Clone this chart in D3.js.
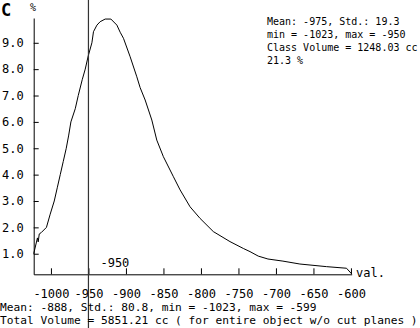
<!DOCTYPE html>
<html>
<head>
<meta charset="utf-8">
<script src="https://cdn.jsdelivr.net/npm/d3@7"></script>
<style>
  body { margin: 0; background: #fff; }
  svg { display: block; }
  text { font-family: 'DejaVu Sans Mono', monospace; fill: #000; }
</style>
</head>
<body>
<div id="chart"></div>
<script>
const width = 420;
const height = 328;

// histogram curve
const values = [-1023, -1018, -1017, -1015.6, -1013, -1006, -1001, -995.6, -991.6, -987.6,
  -983.6, -979.6, -976.3, -973.4, -967.6, -963.6, -958.3, -954.3, -950.3, -945.4,
  -943.3, -938.7, -934.4, -927.7, -920.1, -912.1, -907.7, -903.3, -894.4, -885.5,
  -881.1, -874.4, -865.5, -858.9, -850.1, -836.7, -827.8, -814.5, -801.2, -783.5,
  -761.3, -743.5, -734.6, -723.6, -710.7, -690.7, -668.1, -632.5, -605.9, -599.2];
const percents = [1.0, 1.6, 1.45, 1.75, 1.8, 2.0, 2.5, 3.0, 3.5, 4.0,
  4.5, 5.0, 5.5, 6.0, 6.5, 7.0, 7.6, 8.0, 8.5, 9.0,
  9.42, 9.67, 9.8, 9.9, 9.9, 9.67, 9.4, 9.17, 8.47, 7.71,
  7.3, 6.83, 6.07, 5.31, 4.68, 3.92, 3.42, 2.78, 2.34, 1.84,
  1.46, 1.2, 1.08, 0.91, 0.8, 0.72, 0.61, 0.51, 0.45, 0.24];

const xTicks = [-1000, -950, -900, -850, -800, -750, -700, -650, -600];
const yTicks = [1, 2, 3, 4, 5, 6, 7, 8, 9];
const cutValue = -950;

const infoLines = ['Mean: -975, Std.: 19.3', 'min = -1023, max = -950', 'Class Volume = 1248.03 cc', '21.3 %'];
const footLines = ['Mean: -888, Std.: 80.8, min = -1023, max = -599',
  'Total Volume = 5851.21 cc ( for entire object w/o cut planes )'];

const svg = d3.select('#chart')
  .append('svg')
  .attr('width', width)
  .attr('height', height);

const x = d3.scaleLinear()
  .domain([-1023, -599])
  .range([33.7, 351.7]);

const y = d3.scaleLinear()
  .domain([0.22, 9.94])
  .range([274.3, 18]);

// axes
const xAxis = svg.append('g')
  .attr('transform', `translate(0, ${y(0.22)})`)
  .call(d3.axisBottom(x)
    .tickValues(xTicks)
    .tickFormat(d3.format('d'))
    .tickSizeInner(-6)
    .tickSizeOuter(0)
    .tickPadding(15));

const yAxis = svg.append('g')
  .attr('transform', `translate(${x(-1023)}, 0)`)
  .call(d3.axisLeft(y)
    .tickValues(yTicks)
    .tickFormat(d3.format('.1f'))
    .tickSizeInner(-5)
    .tickSizeOuter(0)
    .tickPadding(10));

svg.selectAll('.domain, .tick line').attr('stroke', '#000');
xAxis.selectAll('text').attr('font-size', 12).attr('font-family', "'DejaVu Sans Mono', monospace");
yAxis.selectAll('text').attr('font-size', 12).attr('font-family', "'DejaVu Sans Mono', monospace");
xAxis.selectAll('.tick text').text(d => d3.format('d')(d).replace('−', '-'));

// curve
const points = values.map((v, i) => [v, percents[i]]);
const line = d3.line()
  .x(d => x(d[0]))
  .y(d => y(d[1]));

svg.append('path')
  .datum(points)
  .attr('fill', 'none')
  .attr('stroke', '#000')
  .attr('stroke-width', 1)
  .attr('d', line);

// cut line
svg.append('line')
  .attr('x1', x(cutValue)).attr('x2', x(cutValue))
  .attr('y1', 0).attr('y2', height)
  .attr('stroke', '#333')
  .attr('stroke-width', 1.2);

svg.append('text')
  .attr('x', x(cutValue) + 12)
  .attr('y', 267)
  .attr('font-size', 12)
  .text(`${cutValue}`);

// labels
svg.append('text')
  .attr('x', 1).attr('y', 16)
  .attr('font-family', 'Liberation Sans, Arial, sans-serif')
  .attr('font-weight', 'bold')
  .attr('font-size', 17)
  .text('C');

svg.append('text')
  .attr('x', 30).attr('y', 11)
  .attr('font-size', 10)
  .text('%');

svg.append('text')
  .attr('x', 356).attr('y', 277)
  .attr('font-size', 12)
  .text('val.');

svg.append('g')
  .selectAll('text')
  .data(infoLines)
  .enter()
  .append('text')
  .attr('x', 267)
  .attr('y', (d, i) => 25 + i * 13)
  .attr('font-size', 10)
  .text(d => d);

svg.append('g')
  .selectAll('text')
  .data(footLines)
  .enter()
  .append('text')
  .attr('x', 0)
  .attr('y', (d, i) => 311 + i * 13)
  .attr('font-size', 11.2)
  .text(d => d);
</script>
</body>
</html>
